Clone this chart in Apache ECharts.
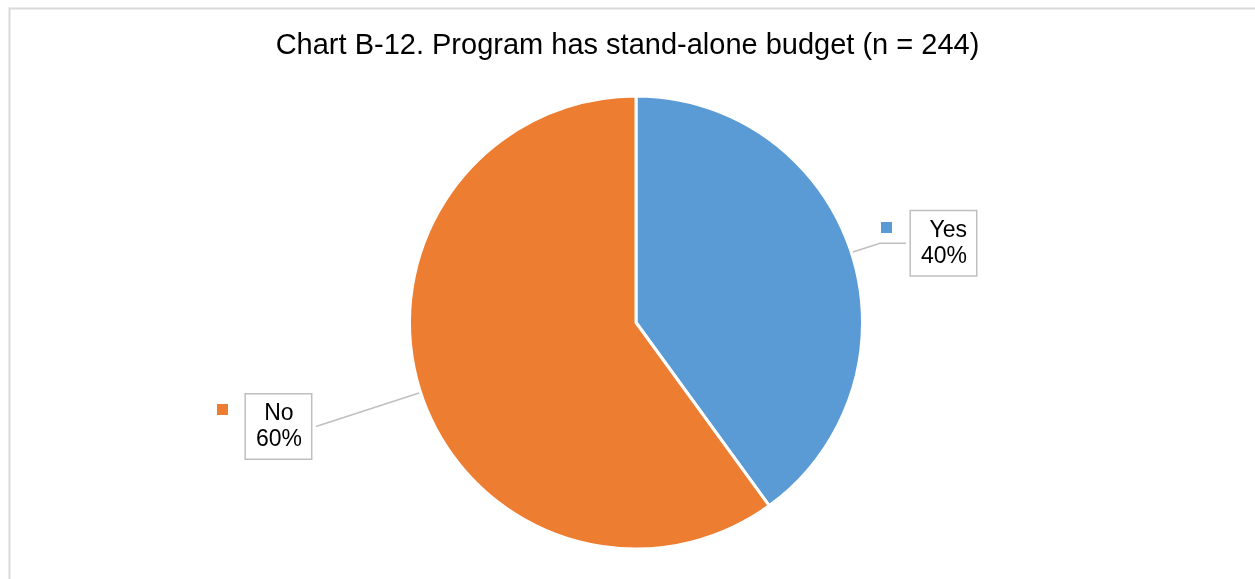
<!DOCTYPE html>
<html>
<head>
<meta charset="utf-8">
<script src="https://cdn.jsdelivr.net/npm/echarts@6/dist/echarts.min.js"></script>
<style>
  html, body { margin: 0; padding: 0; background: #ffffff; }
  #chart { width: 1255px; height: 579px; }
</style>
</head>
<body>
<div id="chart"></div>
<script>
// Survey answers: does the program have a stand-alone budget?
const titleText = 'Chart B-12. Program has stand-alone budget (n = 244)';
const categories = ['Yes', 'No'];
const shares = [40, 60];
const sliceColors = ['#5B9BD5', '#ED7D31'];

const FONT = '"Liberation Sans", Arial, sans-serif';

// Per-slice callout styling (Yes on the right, No on the left)
const calloutStyle = [
  { align: 'right', line: { length: 30, length2: 26 } },
  { align: 'center', line: { length: 110, length2: 0 } }
];

const pieData = categories.map((name, i) => ({
  name: name,
  value: shares[i],
  itemStyle: { color: sliceColors[i] },
  labelLine: calloutStyle[i].line,
  label: {
    formatter: '{t|{b}}\n{t|{d}%}',
    rich: {
      t: {
        fontFamily: FONT,
        fontSize: 23,
        lineHeight: 26,
        color: '#000000',
        align: calloutStyle[i].align
      }
    }
  }
}));

const chart = echarts.init(document.getElementById('chart'), null, { renderer: 'canvas' });

chart.setOption({
  backgroundColor: '#ffffff',
  animation: false,
  title: {
    text: titleText,
    left: 'center',
    top: 31,
    padding: 0,
    textStyle: {
      fontFamily: FONT,
      fontSize: 29,
      fontWeight: 'normal',
      color: '#000000'
    }
  },
  // Legend keys sit beside each callout box
  legend: [
    {
      data: [categories[0]],
      left: 879, top: 220,
      icon: 'rect', itemWidth: 13, itemHeight: 13,
      selectedMode: false,
      formatter: () => '',
      padding: 0
    },
    {
      data: [categories[1]],
      left: 215, top: 402,
      icon: 'rect', itemWidth: 13, itemHeight: 13,
      selectedMode: false,
      formatter: () => '',
      padding: 0
    }
  ],
  graphic: [
    {
      type: 'rect',
      left: 7, top: 6,
      shape: { width: 1400, height: 700 },
      style: { fill: 'none', stroke: '#d9d9d9', lineWidth: 2 },
      silent: true,
      z: -1
    }
  ],
  series: [
    {
      type: 'pie',
      center: [636, 322.5],
      radius: [0, 226.5],
      startAngle: 90,
      clockwise: true,
      data: pieData,
      itemStyle: { borderColor: '#ffffff', borderWidth: 3 },
      label: {
        show: true,
        position: 'outside',
        backgroundColor: '#ffffff',
        borderColor: '#bfbfbf',
        borderWidth: 1.5,
        padding: [6, 9, 6, 10],
        distanceToLabelLine: 5
      },
      labelLine: {
        show: true,
        lineStyle: { color: '#bfbfbf', width: 1.5 }
      },
      emphasis: { disabled: true }
    }
  ]
});
</script>
</body>
</html>
